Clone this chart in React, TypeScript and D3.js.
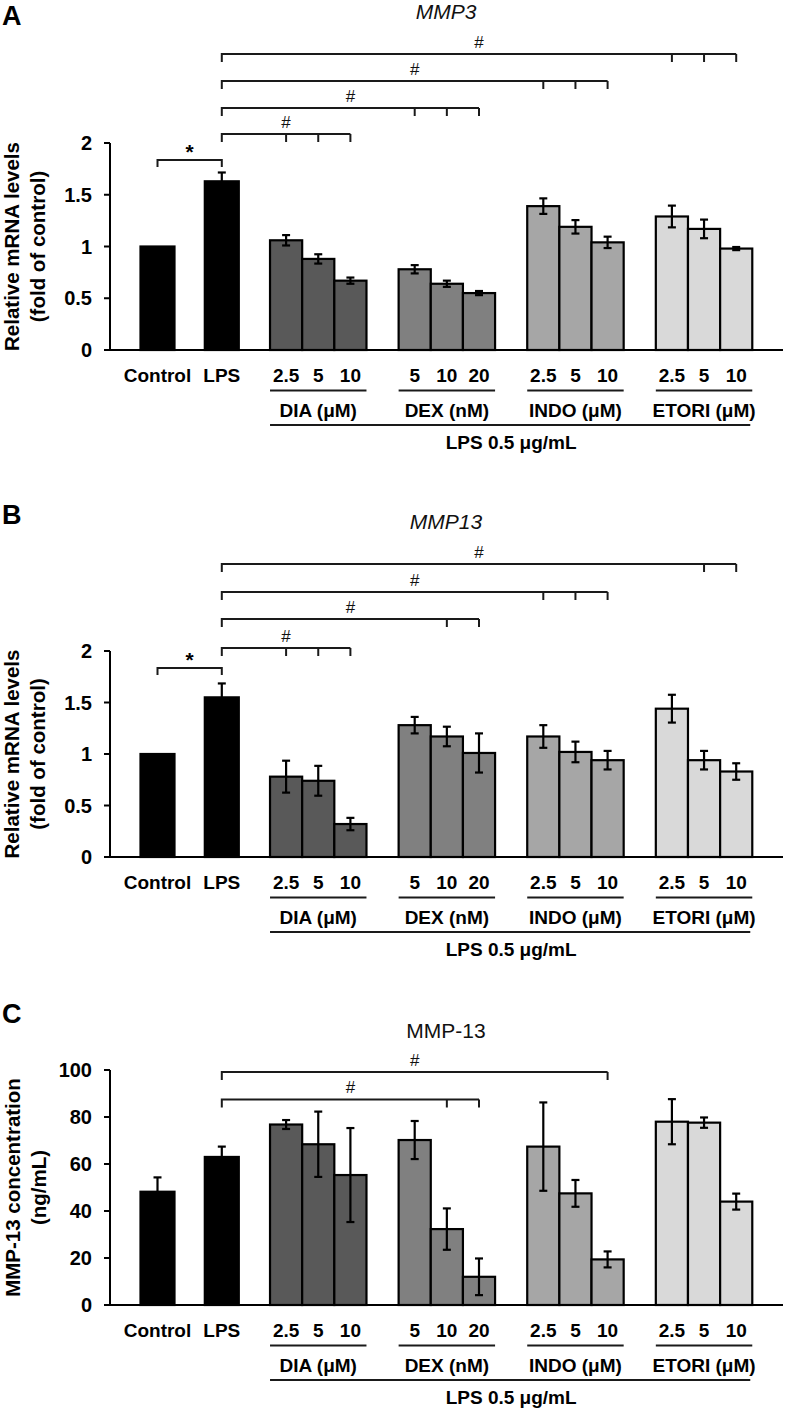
import React from "react";
import * as d3 from "d3";

// ---------- data ----------
const categories = ["Control", "LPS", "DIA 2.5", "DIA 5", "DIA 10", "DEX 5", "DEX 10", "DEX 20", "INDO 2.5", "INDO 5", "INDO 10", "ETORI 2.5", "ETORI 5", "ETORI 10"];
const groupNames = ["DIA (μM)", "DEX (nM)", "INDO (μM)", "ETORI (μM)"];
const doseLabels = [["2.5", "5", "10"], ["5", "10", "20"], ["2.5", "5", "10"], ["2.5", "5", "10"]];
const lpsLabel = "LPS 0.5 μg/mL";

const mmp3Values = [1.0, 1.63, 1.06, 0.88, 0.67, 0.78, 0.64, 0.55, 1.39, 1.19, 1.04, 1.29, 1.17, 0.98];
const mmp3Errors = [0, 0.085, 0.05, 0.045, 0.03, 0.04, 0.03, 0.02, 0.075, 0.065, 0.055, 0.105, 0.09, 0.015];
const mmp3Brackets = [[11, 12, 13], [8, 9, 10], [5, 6, 7], [2, 3, 4]];

const mmp13Values = [1.0, 1.55, 0.78, 0.74, 0.32, 1.28, 1.17, 1.01, 1.17, 1.02, 0.94, 1.44, 0.94, 0.83];
const mmp13Errors = [0, 0.135, 0.155, 0.145, 0.06, 0.08, 0.095, 0.19, 0.11, 0.1, 0.09, 0.135, 0.09, 0.08];
const mmp13Brackets = [[12, 13], [8, 9, 10], [6, 7], [2, 3, 4]];

const elisaValues = [48.2, 63.0, 76.8, 68.4, 55.3, 70.2, 32.3, 12.0, 67.4, 47.5, 19.4, 78.0, 77.6, 44.0];
const elisaErrors = [6.1, 4.4, 1.9, 13.9, 20.0, 8.1, 8.8, 7.8, 18.8, 5.7, 3.4, 9.6, 2.2, 3.4];
const elisaBrackets = [[10], [6, 7]];

const ticksRel = [0, 0.5, 1, 1.5, 2];
const ticksConc = [0, 20, 40, 60, 80, 100];

const barColors = ["#000000", "#000000", "#595959", "#595959", "#595959", "#808080", "#808080", "#808080", "#a6a6a6", "#a6a6a6", "#a6a6a6", "#d9d9d9", "#d9d9d9", "#d9d9d9"];

const FONT = "'Liberation Sans', Arial, Helvetica, sans-serif";

// slot index of each category: Control 0, LPS 2, groups of three separated by one gap
const slotOf = (i: number) => (i < 2 ? i * 2 : 4 + Math.floor((i - 2) / 3) * 4 + ((i - 2) % 3));

type PanelCfg = {
  letter: string;
  letterY: number;
  title: string;
  titleItalic: boolean;
  titleY: number;
  values: number[];
  errors: number[];
  brackets: number[][];
  bracketYs: number[];
  starY: number | null;
  domain: [number, number];
  ticks: number[];
  y0: number;
  yTop: number;
  yLabel: [string, string];
  yLabelX: [number, number];
};

const panels: PanelCfg[] = [
  {
    letter: "A", letterY: 25, title: "MMP3", titleItalic: true, titleY: 19,
    values: mmp3Values, errors: mmp3Errors, brackets: mmp3Brackets,
    bracketYs: [54, 81, 108, 134], starY: 160,
    domain: [0, 2], ticks: ticksRel, y0: 350, yTop: 143,
    yLabel: ["Relative mRNA levels", "(fold of control)"], yLabelX: [19, 45],
  },
  {
    letter: "B", letterY: 524, title: "MMP13", titleItalic: true, titleY: 529,
    values: mmp13Values, errors: mmp13Errors, brackets: mmp13Brackets,
    bracketYs: [564, 592, 619, 648], starY: 668,
    domain: [0, 2], ticks: ticksRel, y0: 857, yTop: 651,
    yLabel: ["Relative mRNA levels", "(fold of control)"], yLabelX: [19, 45],
  },
  {
    letter: "C", letterY: 1023, title: "MMP-13", titleItalic: false, titleY: 1038,
    values: elisaValues, errors: elisaErrors, brackets: elisaBrackets,
    bracketYs: [1072, 1099.5], starY: null,
    domain: [0, 100], ticks: ticksConc, y0: 1305, yTop: 1070,
    yLabel: ["MMP-13 concentration", "(ng/mL)"], yLabelX: [20, 46],
  },
];

const x = d3.scaleLinear().domain([0, 18]).range([157.5, 736.2]);
const slotW = x(1) - x(0);
const axisLeft = 110;
const axisRight = 783;

function Panel({ cfg }: { cfg: PanelCfg }) {
  const y = d3.scaleLinear().domain(cfg.domain).range([cfg.y0, cfg.yTop]);
  const lineColor = "#1a1a1a";
  const lpsX = x(slotOf(1));
  const yMid = (cfg.y0 + cfg.yTop) / 2;
  const labRow = cfg.y0 + 32;
  const groupLine = cfg.y0 + 40.5;
  const groupRow = cfg.y0 + 67;
  const longLine = cfg.y0 + 75;
  const lpsRow = cfg.y0 + 99;

  return (
    <g>
      <text x={2} y={cfg.letterY} fontSize={27} fontWeight="bold" fontFamily={FONT}>{cfg.letter}</text>
      <text x={446} y={cfg.titleY} fontSize={21} fontStyle={cfg.titleItalic ? "italic" : "normal"} textAnchor="middle" fontFamily={FONT} fill="#111">{cfg.title}</text>

      {/* y axis label */}
      {cfg.yLabel.map((t, k) => (
        <text key={k} transform={`translate(${cfg.yLabelX[k]},${yMid}) rotate(-90)`} textAnchor="middle" fontSize={20.5} fontWeight="bold" fontFamily={FONT}>{t}</text>
      ))}

      {/* bars */}
      {cfg.values.map((v, i) => {
        const cx = x(slotOf(i));
        const w = i < 2 ? 34 : slotW;
        return (
          <rect key={"b" + i} x={cx - w / 2} y={y(v)} width={w} height={cfg.y0 - y(v)} fill={barColors[i]} stroke="#000" strokeWidth={2.2} />
        );
      })}

      {/* error bars */}
      {cfg.values.map((v, i) => {
        const e = cfg.errors[i];
        if (!e) return null;
        const cx = x(slotOf(i));
        const yt = y(v + e);
        const yb = y(Math.max(0, v - e));
        return (
          <g key={"e" + i} stroke="#000" strokeWidth={2.2}>
            <line x1={cx} x2={cx} y1={yt} y2={yb} />
            <line x1={cx - 4} x2={cx + 4} y1={yt} y2={yt} />
            <line x1={cx - 4} x2={cx + 4} y1={yb} y2={yb} />
          </g>
        );
      })}

      {/* axes */}
      <line x1={axisLeft} x2={axisLeft} y1={cfg.yTop} y2={cfg.y0} stroke="#000" strokeWidth={2} />
      <line x1={axisLeft - 1} x2={axisRight} y1={cfg.y0} y2={cfg.y0} stroke="#000" strokeWidth={2} />
      {cfg.ticks.map((t) => (
        <g key={"t" + t}>
          <line x1={axisLeft - 6} x2={axisLeft} y1={y(t)} y2={y(t)} stroke="#000" strokeWidth={2} />
          <text x={axisLeft - 18} y={y(t)} dy="0.36em" textAnchor="end" fontSize={20} fontWeight="bold" fontFamily={FONT}>{String(t)}</text>
        </g>
      ))}

      {/* significance brackets */}
      {cfg.brackets.map((br, k) => {
        const by = cfg.bracketYs[k];
        const xr = x(slotOf(br[br.length - 1]));
        return (
          <g key={"br" + k}>
            <path d={`M${lpsX},${by + 8}V${by}H${xr}`} fill="none" stroke={lineColor} strokeWidth={2} />
            {br.map((ci) => (
              <line key={ci} x1={x(slotOf(ci))} x2={x(slotOf(ci))} y1={by} y2={by + 8} stroke={lineColor} strokeWidth={2} />
            ))}
            <text x={(lpsX + xr) / 2} y={by - 6.5} textAnchor="middle" fontSize={17} fontFamily={FONT} fill="#111">#</text>
          </g>
        );
      })}
      {cfg.starY !== null && (
        <g>
          <path d={`M${x(0)},${cfg.starY + 7}V${cfg.starY}H${lpsX}V${cfg.starY + 7}`} fill="none" stroke={lineColor} strokeWidth={2} />
          <text x={(x(0) + lpsX) / 2} y={cfg.starY - 1} textAnchor="middle" fontSize={21} fontWeight="bold" fontFamily={FONT}>*</text>
        </g>
      )}

      {/* x labels */}
      <text x={x(0)} y={labRow} textAnchor="middle" fontSize={19} fontWeight="bold" fontFamily={FONT}>{categories[0]}</text>
      <text x={x(2)} y={labRow} textAnchor="middle" fontSize={19} fontWeight="bold" fontFamily={FONT}>{categories[1]}</text>
      {groupNames.map((g, gi) => {
        const s0 = 4 + gi * 4;
        return (
          <g key={"g" + gi}>
            {doseLabels[gi].map((d, di) => (
              <text key={di} x={x(s0 + di)} y={labRow} textAnchor="middle" fontSize={19} fontWeight="bold" fontFamily={FONT}>{d}</text>
            ))}
            <line x1={x(s0) - slotW / 2} x2={x(s0 + 2) + slotW / 2} y1={groupLine} y2={groupLine} stroke={lineColor} strokeWidth={2} />
            <text x={x(s0 + 1)} y={groupRow} textAnchor="middle" fontSize={19} fontWeight="bold" fontFamily={FONT}>{g}</text>
          </g>
        );
      })}
      <line x1={x(4) - slotW / 2} x2={x(18) + slotW / 2 - 2} y1={longLine} y2={longLine} stroke={lineColor} strokeWidth={2} />
      <text x={x(11)} y={lpsRow} textAnchor="middle" fontSize={19} fontWeight="bold" fontFamily={FONT}>{lpsLabel}</text>
    </g>
  );
}

export default function App() {
  return (
    <svg width={787} height={1409} viewBox="0 0 787 1409" style={{ position: "absolute", left: 0, top: 0, background: "#fff" }}>
      <rect x={0} y={0} width={787} height={1409} fill="#fff" />
      {panels.map((p) => (
        <Panel key={p.letter} cfg={p} />
      ))}
    </svg>
  );
}
